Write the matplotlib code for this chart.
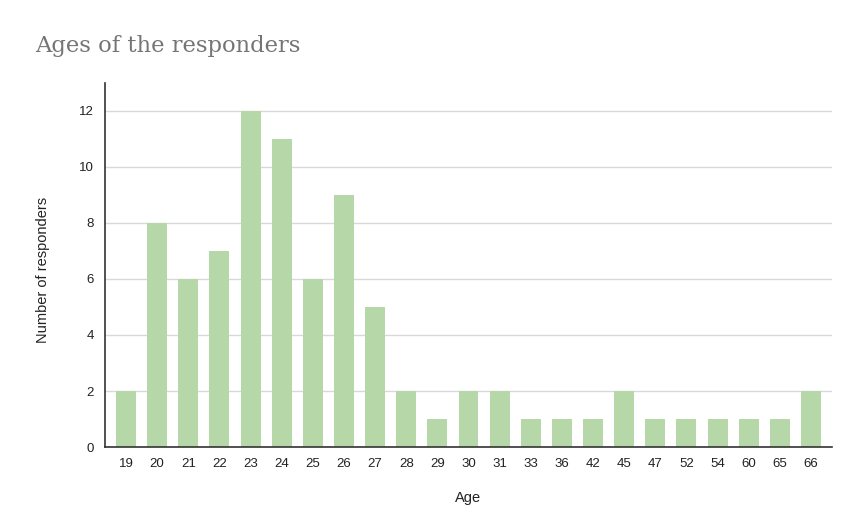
import matplotlib
matplotlib.use("Agg")
import matplotlib.pyplot as plt

ages = ["19", "20", "21", "22", "23", "24", "25", "26", "27", "28", "29", "30",
        "31", "33", "36", "42", "45", "47", "52", "54", "60", "65", "66"]
counts = [2, 8, 6, 7, 12, 11, 6, 9, 5, 2, 1, 2, 2, 1, 1, 1, 2, 1, 1, 1, 1, 1, 2]
yticks = [0, 2, 4, 6, 8, 10, 12]

plt.rcParams['font.family'] = ['Liberation Sans', 'DejaVu Sans']

fig = plt.figure(figsize=(8.45, 5.28), dpi=100)
ax = fig.add_axes([105/845, 1-447/528, (832-105)/845, (447-83)/528])

x = list(range(len(ages)))
ax.bar(x, counts, width=0.64, color="#b6d7a8", zorder=3)
ax.set_xlim(-0.675, len(ages) - 1 + 0.675)
ax.set_ylim(0, 13)
ax.set_yticks(yticks)
ax.set_xticks(x)
ax.set_xticklabels(ages)
ax.grid(axis='y', color="#d9d9d9", linewidth=1, zorder=0)
ax.tick_params(length=0, labelsize=9.5, colors="#222222", pad=8)
for s in ['top', 'right']:
    ax.spines[s].set_visible(False)
for s in ['left', 'bottom']:
    ax.spines[s].set_color("#333333")
    ax.spines[s].set_linewidth(1.2)
    ax.spines[s].set_zorder(4)

fig.text(35/845, 1-46/528, "Ages of the responders", family="DejaVu Serif",
         fontsize=16.3, color="#757575", va="center", ha="left")
fig.text(468/845, 1-498/528, "Age", fontsize=10.5, color="#222222",
         ha="center", va="center")
fig.text(43/845, 1-270/528, "Number of responders", fontsize=10.5, color="#222222",
         ha="center", va="center", rotation=90)

fig.savefig("out.png", dpi=100)
